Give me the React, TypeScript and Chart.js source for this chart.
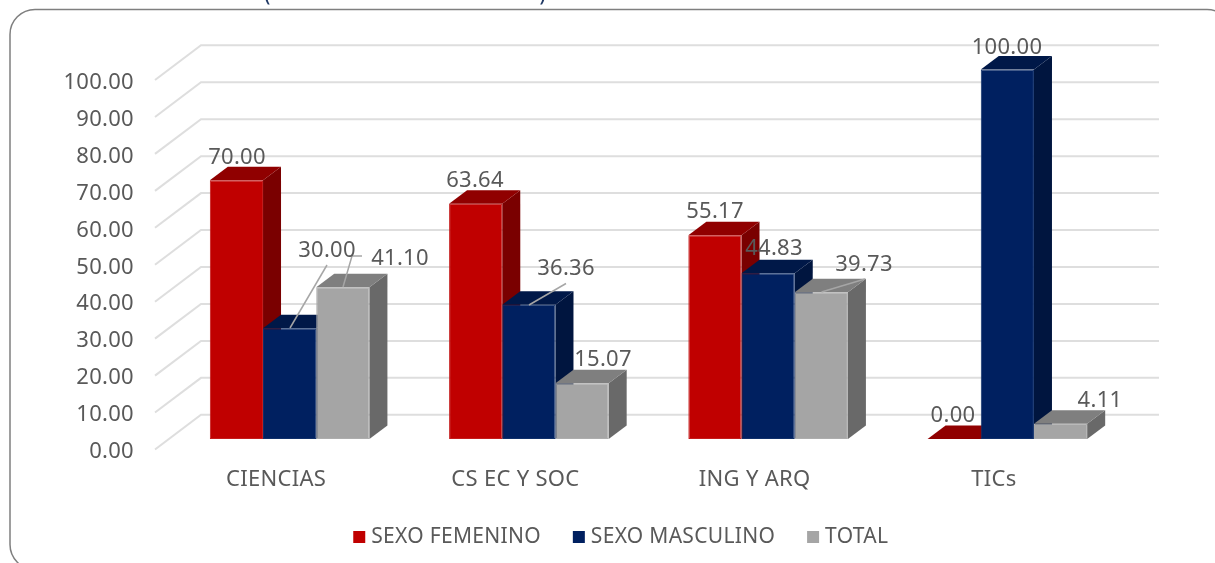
import React, { useEffect, useRef } from "react";
import { Chart, registerables } from "chart.js";

Chart.register(...registerables);

const categories = ["CIENCIAS", "CS EC Y SOC", "ING Y ARQ", "TICs"];
const femenino = [70.0, 63.64, 55.17, 0.0];
const masculino = [30.0, 36.36, 44.83, 100.0];
const total = [41.1, 15.07, 39.73, 4.11];
const seriesNames = ["SEXO FEMENINO", "SEXO MASCULINO", "TOTAL"];

const FONT = "'Noto Sans', sans-serif";
const FONT_SIZE = 22;
const SPACING = "0.3px";
const TEXT = "#595959";
const DEPTH_X = 18;
const DEPTH_Y = 13.5;

const faceColors = ["#C00000", "#002060", "#A5A5A5"];
const edgeColors = ["#C41C1C", "#10306B", "#ADADAD"];
const topColors = ["#900000", "#001848", "#7F7F7F"];
const sideColors = ["#7A0000", "#00153F", "#696969"];

// label centre, per dataset then category
const labelCentres = [
  [[237, 157.5], [475, 180.5], [715, 211.5], [953, 415.5]],
  [[327, 250.5], [566, 268.5], [774, 248.5], [1007, 47.5]],
  [[400, 258.5], [603, 359.5], [864, 264.5], [1100, 400.5]],
];

// leader lines: start point, then the bends
const leaders: number[][][] = [
  [[290, 328], [327, 265]],
  [[343, 287], [352, 256], [362, 256]],
  [[529, 305], [566, 283.5]],
  [[821.5, 292], [865, 279]],
];

const threeD = {
  id: "threeD",
  beforeUpdate(chart: any) {
    chart.ctx.letterSpacing = SPACING;
  },
  afterLayout(chart: any) {
    const lg = chart.legend;
    lg.left += 34.5;
    lg.right += 34.5;
    lg.top -= 3;
    lg.bottom -= 3;
  },
  beforeDraw(chart: any) {
    const { ctx, width, height } = chart;
    ctx.letterSpacing = SPACING;
    ctx.save();
    ctx.fillStyle = "#fff";
    ctx.fillRect(0, 0, width, height);
    // clipped title fragment above the panel
    ctx.font = `24px 'DejaVu Sans', sans-serif`;
    ctx.fillStyle = "#1F3864";
    ctx.textBaseline = "alphabetic";
    ctx.textAlign = "center";
    ctx.fillText("(", 267, 1);
    ctx.fillText(")", 543, 1);
    // panel
    ctx.strokeStyle = "#7F7F7F";
    ctx.lineWidth = 1.5;
    ctx.beginPath();
    ctx.roundRect(10, 9.5, 1222, 560, 25);
    ctx.stroke();
    ctx.restore();
  },
  beforeDatasetsDraw(chart: any) {
    const { ctx } = chart;
    const y = chart.scales.y;
    ctx.save();
    // floor-to-wall gridlines
    ctx.strokeStyle = "#DEDEDE";
    ctx.lineWidth = 2;
    y.ticks.forEach((t: any) => {
      const py = y.getPixelForValue(t.value);
      ctx.beginPath();
      ctx.moveTo(155, py + 10.5);
      ctx.lineTo(201, py - 24.2);
      ctx.lineTo(1159, py - 24.2);
      ctx.stroke();
    });
    // sides and tops of bars, behind the fronts
    chart.data.datasets.forEach((_: any, di: number) => {
      chart.getDatasetMeta(di).data.forEach((bar: any) => {
        const l = bar.x - bar.width / 2;
        const r = bar.x + bar.width / 2;
        const t = bar.y;
        const b = bar.base;
        ctx.fillStyle = sideColors[di];
        ctx.beginPath();
        ctx.moveTo(r, t);
        ctx.lineTo(r + DEPTH_X, t - DEPTH_Y);
        ctx.lineTo(r + DEPTH_X, b - DEPTH_Y);
        ctx.lineTo(r, b);
        ctx.closePath();
        ctx.fill();
        ctx.fillStyle = topColors[di];
        ctx.beginPath();
        ctx.moveTo(l, t);
        ctx.lineTo(l + DEPTH_X, t - DEPTH_Y);
        ctx.lineTo(r + DEPTH_X, t - DEPTH_Y);
        ctx.lineTo(r, t);
        ctx.closePath();
        ctx.fill();
      });
    });
    ctx.restore();
  },
  afterDatasetsDraw(chart: any) {
    const { ctx } = chart;
    ctx.save();
    ctx.strokeStyle = "#A6A6A6";
    ctx.lineWidth = 1.5;
    leaders.forEach((pts) => {
      ctx.beginPath();
      pts.forEach((p, i) => (i ? ctx.lineTo(p[0], p[1]) : ctx.moveTo(p[0], p[1])));
      ctx.stroke();
    });
    ctx.font = `${FONT_SIZE}px ${FONT}`;
    ctx.fillStyle = TEXT;
    ctx.textAlign = "center";
    ctx.textBaseline = "middle";
    chart.data.datasets.forEach((ds: any, di: number) => {
      ds.data.forEach((v: number, ci: number) => {
        const [cx, cy] = labelCentres[di][ci];
        ctx.fillText(v.toFixed(2), cx, cy);
      });
    });
    ctx.restore();
  },
};

export default function App() {
  const ref = useRef<HTMLCanvasElement>(null);
  useEffect(() => {
    document.body.style.margin = "0";
    const chart = new Chart(ref.current as HTMLCanvasElement, {
      type: "bar",
      data: {
        labels: categories,
        datasets: [femenino, masculino, total].map((d, i) => ({
          label: seriesNames[i],
          data: d,
          backgroundColor: faceColors[i],
          borderColor: edgeColors[i],
          borderWidth: 1,
          borderSkipped: false,
          categoryPercentage: 0.667,
          barPercentage: 1,
        })),
      },
      options: {
        animation: false,
        responsive: false,
        layout: { padding: { top: 69.5, right: 88, left: 50, bottom: 2.5 } },
        plugins: {
          tooltip: { enabled: false },
          legend: {
            position: "bottom",
            labels: {
              color: TEXT,
              font: { family: FONT, size: 21 },
              boxWidth: 3,
              boxHeight: 3,
              padding: 36.5,
              generateLabels: (c: any) =>
                Chart.defaults.plugins.legend.labels.generateLabels(c).map((it: any) => ({
                  ...it,
                  lineWidth: 9,
                  strokeStyle: it.fillStyle,
                })),
            },
          },
        },
        scales: {
          x: {
            grid: { display: false },
            border: { display: false },
            ticks: {
              color: TEXT,
              font: { family: FONT, size: FONT_SIZE },
              labelOffset: -13.5,
              padding: 20,
              maxRotation: 0,
            },
            afterFit: (s: any) => { s.height = 54; },
          },
          y: {
            min: 0,
            max: 100,
            grid: { display: false, drawTicks: false },
            border: { display: false },
            ticks: {
              stepSize: 10,
              color: TEXT,
              font: { family: FONT, size: FONT_SIZE },
              labelOffset: 13,
              padding: 36,
              callback: (v: any) => Number(v).toFixed(2),
            },
            afterFit: (s: any) => { s.width = 120; },
          },
        },
      },
      plugins: [threeD],
    } as any);
    return () => chart.destroy();
  }, []);
  return (
    <div style={{ position: "absolute", left: 0, top: 0, width: 1215, height: 563, overflow: "hidden" }}>
      <canvas ref={ref} width={1215} height={563} style={{ display: "block" }} />
    </div>
  );
}
